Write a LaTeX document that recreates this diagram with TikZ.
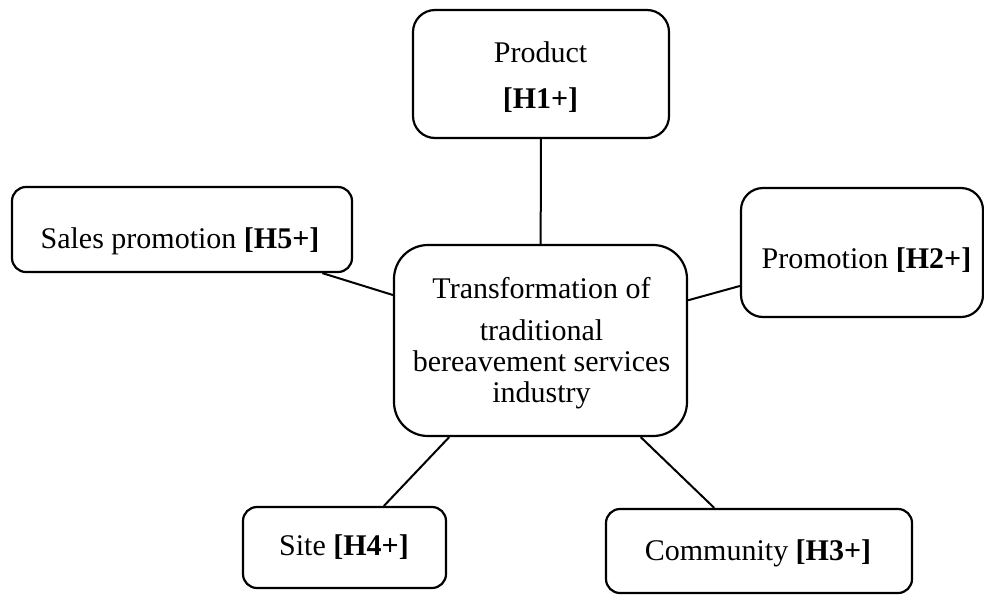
\documentclass[tikz,border=0pt]{standalone}
\usepackage{fontspec}
\setmainfont{Liberation Serif}
\begin{document}
\begin{tikzpicture}[x=1pt,y=-1pt,
  box/.style={draw, line width=2.2pt, inner sep=0pt, fill=white},
  lbl/.style={anchor=base, inner sep=0pt, font=\fontsize{30}{30}\selectfont},
  link/.style={line width=2pt}]
\useasboundingbox (0,0) rectangle (984,595);

% boxes
\node[box, rounded corners=22pt, minimum width=256pt, minimum height=128pt] (product) at (541,74) {};
\node[box, rounded corners=14pt, minimum width=340pt, minimum height=85pt] (sales) at (182,229.5) {};
\node[box, rounded corners=22pt, minimum width=242pt, minimum height=129pt] (promo) at (862,252.5) {};
\node[box, rounded corners=34pt, minimum width=293pt, minimum height=191pt] (center) at (540.5,340.5) {};
\node[box, rounded corners=14pt, minimum width=203pt, minimum height=81pt] (site) at (344.5,547.5) {};
\node[box, rounded corners=14pt, minimum width=306pt, minimum height=84pt] (community) at (759,551) {};

% connectors
\draw[link] (product) -- (center);
\draw[link] (sales) -- (center);
\draw[link] (promo) -- (center);
\draw[link] (site) -- (center);
\draw[link] (community) -- (center);

% texts
\node[lbl] (tprod1) at (540.5,62) {Product};
\node[lbl] (tprod2) at (540.5,108) {\textbf{[H1+]}};
\node[lbl] (tsales) at (180,248) {Sales promotion \textbf{[H5+]}};
\node[lbl] (tpromo) at (866.5,268) {Promotion \textbf{[H2+]}};
\node[lbl] (tc1) at (541.5,298) {Transformation of};
\node[lbl] (tc2) at (541.5,340) {traditional};
\node[lbl] (tc3) at (541.5,371) {bereavement services};
\node[lbl] (tc4) at (541.5,402) {industry};
\node[lbl] (tsite) at (344,555) {Site \textbf{[H4+]}};
\node[lbl] (tcomm) at (758,560) {Community \textbf{[H3+]}};
\end{tikzpicture}
\end{document}
